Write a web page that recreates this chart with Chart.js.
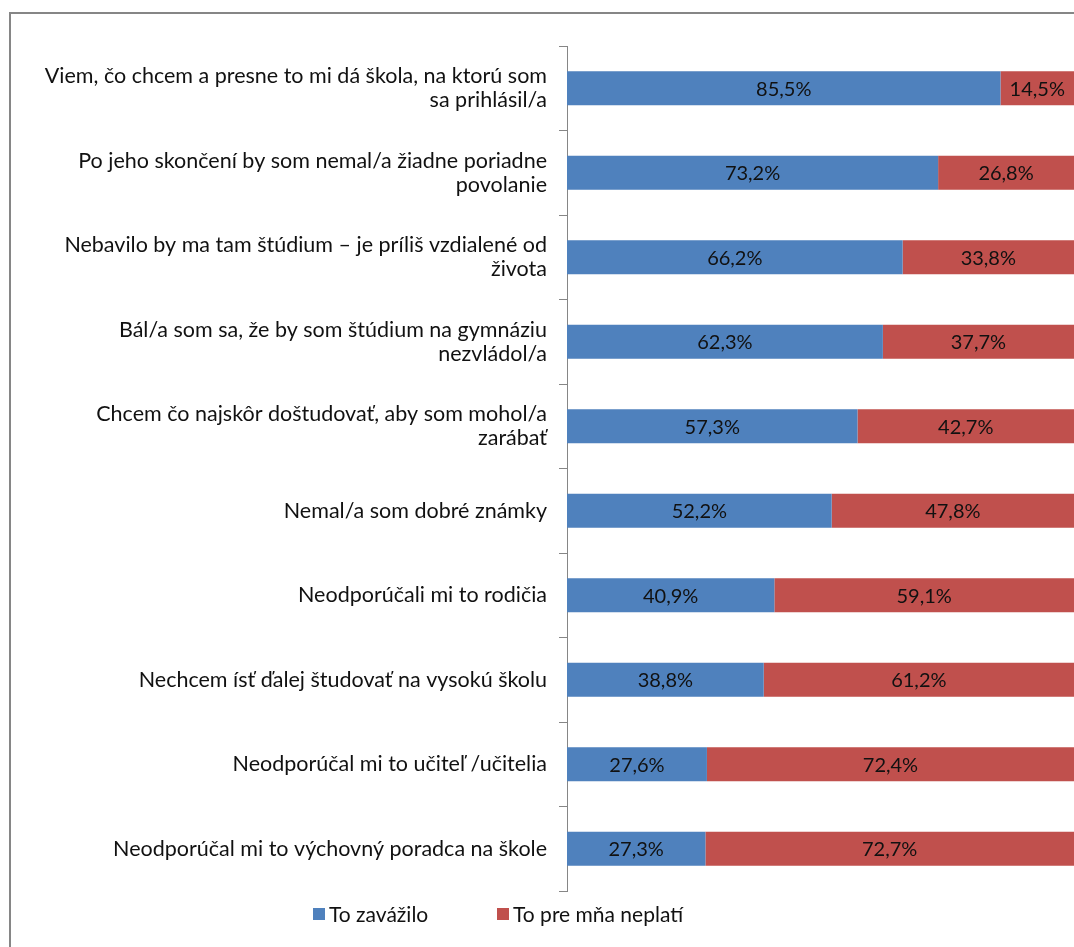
<!DOCTYPE html>
<html>
<head>
<meta charset="utf-8">
<script src="https://cdn.jsdelivr.net/npm/chart.js@4.4.0/dist/chart.umd.min.js"></script>
<style>
  html, body { margin: 0; padding: 0; background: #fff; overflow: hidden; }
  #frame { position: absolute; left: 9px; top: 12px; width: 1200px; height: 1100px; border: 2px solid #868686; box-sizing: border-box; }
  #wrap { position: absolute; left: 0; top: 0; width: 1074px; height: 947px; }
</style>
</head>
<body>
<div id="frame"></div>
<div id="wrap"><canvas id="c" width="1074" height="947"></canvas></div>
<script>
const categories = [
  ["Viem, čo chcem a presne to mi dá škola, na ktorú som", "sa prihlásil/a"],
  ["Po jeho skončení by som nemal/a žiadne poriadne", "povolanie"],
  ["Nebavilo by ma tam štúdium – je príliš vzdialené od", "života"],
  ["Bál/a som sa, že by som štúdium na gymnáziu", "nezvládol/a"],
  ["Chcem čo najskôr doštudovať, aby som mohol/a", "zarábať"],
  "Nemal/a som dobré známky",
  "Neodporúčali mi to rodičia",
  "Nechcem ísť ďalej študovať na vysokú školu",
  "Neodporúčal mi to učiteľ /učitelia",
  "Neodporúčal mi to výchovný poradca na škole"
];
const seriesNames = ["To zavážilo", "To pre mňa neplatí"];
const zavazilo = [85.5, 73.2, 66.2, 62.3, 57.3, 52.2, 40.9, 38.8, 27.6, 27.3];
const neplati = [14.5, 26.8, 33.8, 37.7, 42.7, 47.8, 59.1, 61.2, 72.4, 72.7];
const colors = ["#4F81BD", "#C0504D"];

const FONT = "Lato, 'Open Sans', sans-serif";
const FS = 21.5;

const fmt = v => v.toFixed(1).replace('.', ',') + '%';

const dataLabelPlugin = {
  id: 'dataLabels',
  afterDatasetsDraw(chart) {
    const ctx = chart.ctx;
    ctx.save();
    ctx.font = "20px " + FONT;
    ctx.fillStyle = "#111111";
    ctx.textAlign = "center";
    ctx.textBaseline = "middle";
    chart.data.datasets.forEach((ds, di) => {
      const meta = chart.getDatasetMeta(di);
      meta.data.forEach((el, i) => {
        const x = (el.x + el.base) / 2;
        ctx.fillText(fmt(ds.data[i]), x, el.y + 1);
      });
    });
    ctx.restore();
  }
};

const legendPlugin = {
  id: 'customLegend',
  afterDraw(chart) {
    const ctx = chart.ctx;
    ctx.save();
    ctx.font = "21px " + FONT;
    ctx.textBaseline = "middle";
    ctx.textAlign = "left";
    const starts = [313, 497];
    const y = 914;
    chart.data.datasets.forEach((ds, di) => {
      const x = starts[di];
      ctx.fillStyle = ds.backgroundColor;
      ctx.fillRect(x, y - 6, 12, 12);
      ctx.fillStyle = "#111111";
      ctx.fillText(ds.label, x + 16, y + 1);
    });
    ctx.restore();
  }
};

new Chart(document.getElementById('c'), {
  type: 'bar',
  data: {
    labels: categories,
    datasets: [
      { label: seriesNames[0], data: zavazilo, backgroundColor: colors[0], categoryPercentage: 0.8, barPercentage: 0.5 },
      { label: seriesNames[1], data: neplati, backgroundColor: colors[1], categoryPercentage: 0.8, barPercentage: 0.5 }
    ]
  },
  options: {
    indexAxis: 'y',
    responsive: false,
    animation: false,
    devicePixelRatio: 1,
    layout: { padding: { left: 0, top: 46, right: 0, bottom: 56 } },
    plugins: {
      legend: { display: false },
      tooltip: { enabled: false }
    },
    scales: {
      x: { display: false, stacked: true, min: 0, max: 100 },
      y: {
        stacked: true,
        afterFit(scale) { scale.width = 567; },
        grid: { drawOnChartArea: false, offset: true, tickLength: 8, color: "#868686", tickColor: "#868686" },
        border: { color: "#868686", width: 1 },
        ticks: { color: "#111111", padding: 12, font: { family: FONT, size: FS, lineHeight: 1.12 } }
      }
    }
  },
  plugins: [dataLabelPlugin, legendPlugin]
});
</script>
</body>
</html>
